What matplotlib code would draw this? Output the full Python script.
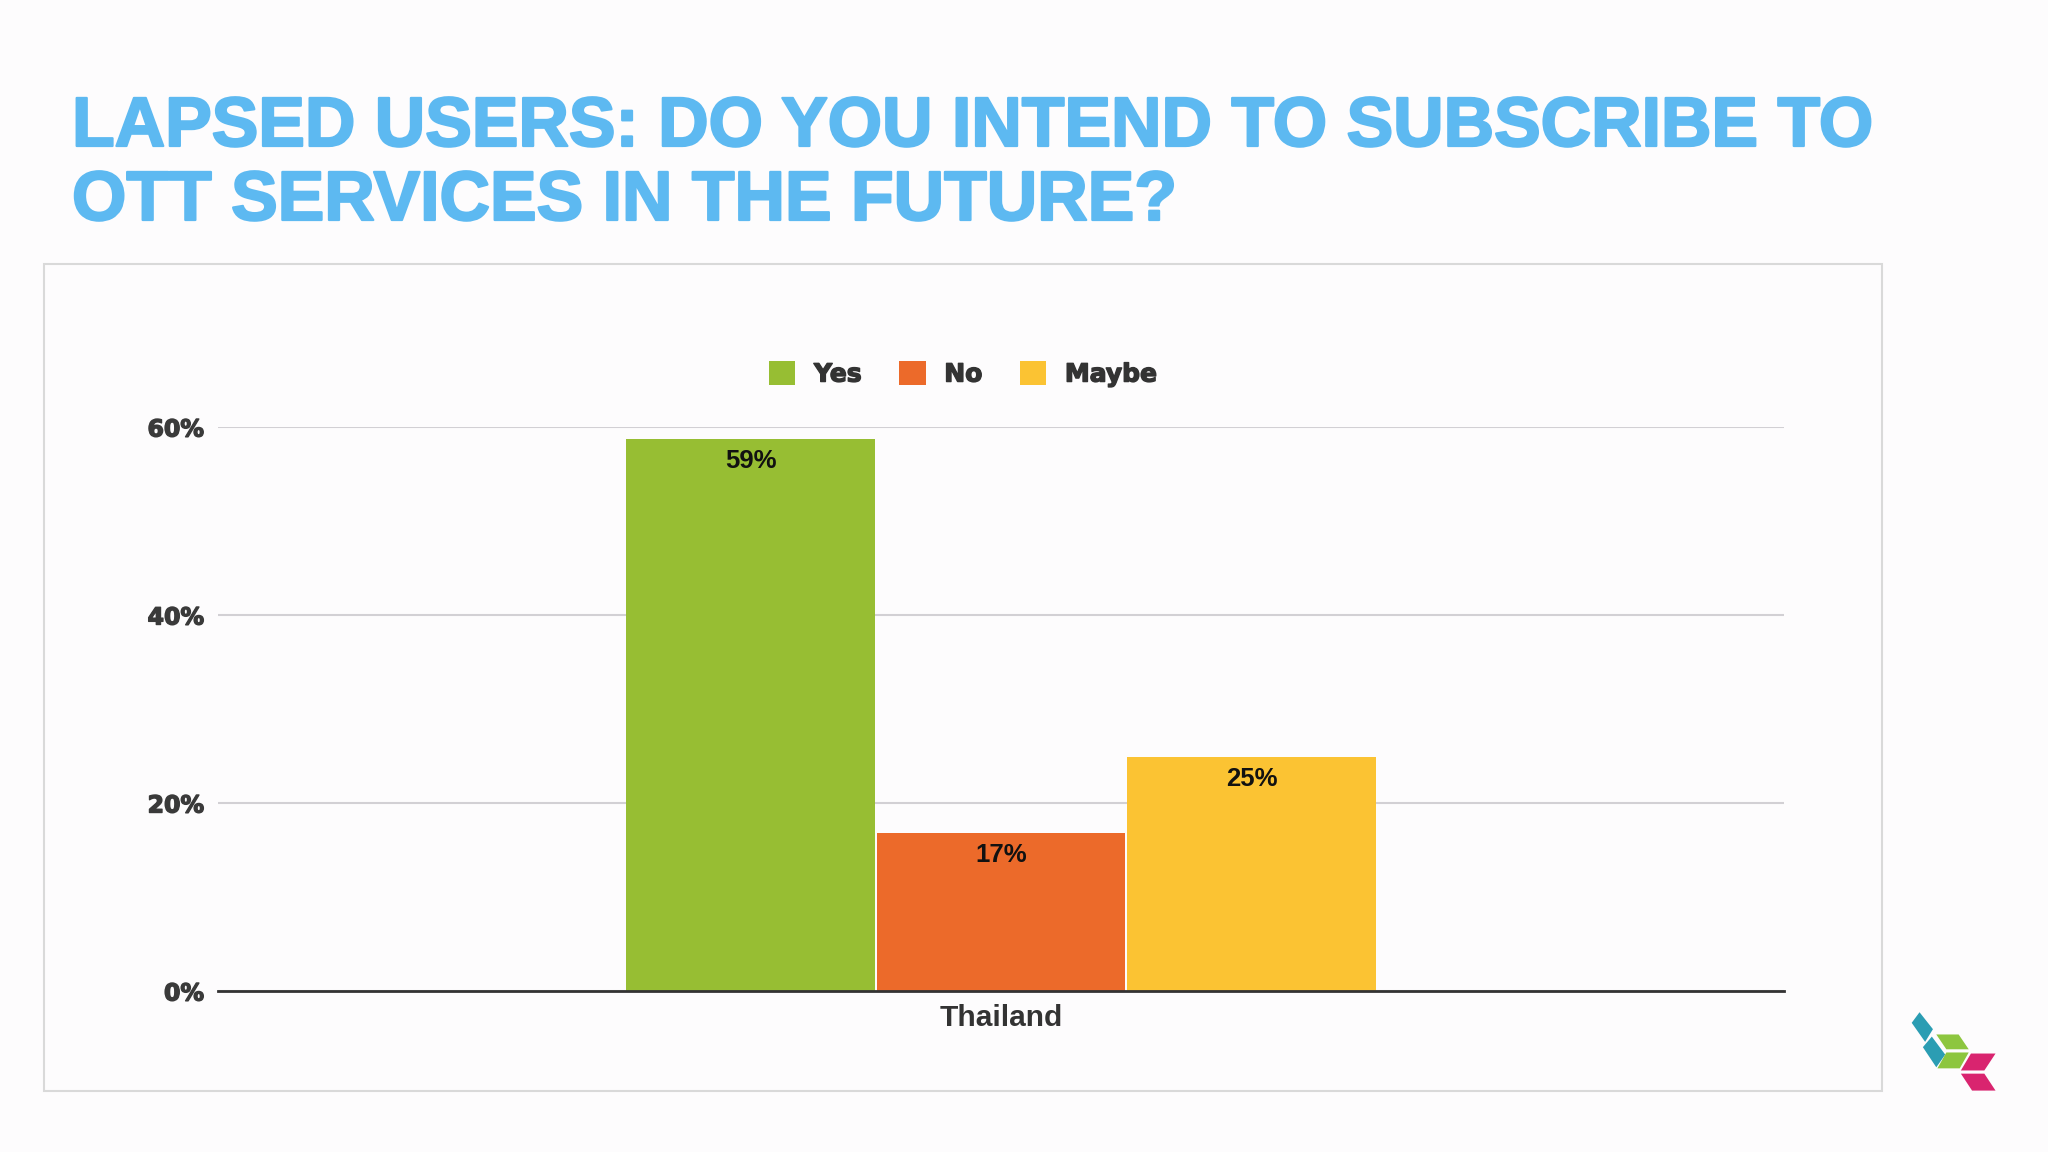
import matplotlib
matplotlib.use("Agg")
import matplotlib.pyplot as plt
from matplotlib.patches import Rectangle, Polygon
import matplotlib.patheffects as pe

# ---- data ----
title_lines = ["LAPSED USERS: DO YOU INTEND TO SUBSCRIBE TO",
               "OTT SERVICES IN THE FUTURE?"]
categories = ["Thailand"]
series_names = ["Yes", "No", "Maybe"]
series_values = [58.7, 16.8, 24.9]
series_colors = ["#97BE33", "#EC6A2A", "#FBC333"]
y_ticks = [0, 20, 40, 60]
y_tick_labels = ["0%", "20%", "40%", "60%"]

W, H = 2048, 1152
fig = plt.figure(figsize=(W / 100, H / 100), dpi=100)
fig.patch.set_facecolor("#FDFCFD")

def fx(px):
    return px / W

def fy(py):
    return 1 - py / H

# title
title_color = "#5DB9F1"
thick = [pe.withStroke(linewidth=1.6, foreground=title_color)]
for line, base in zip(title_lines, [146, 220]):
    fig.text(fx(72), fy(base), line, fontsize=50.3, fontweight="bold",
             family="Liberation Sans", color=title_color, ha="left", va="baseline",
             path_effects=thick)

# chart frame
frame = Rectangle((fx(44), fy(1091)), fx(1882) - fx(44), fy(264) - fy(1091),
                  transform=fig.transFigure, facecolor="#FDFCFD",
                  edgecolor="#D9D9D9", linewidth=1.5, zorder=-10)
fig.patches.append(frame)

# axes
ax = fig.add_axes([fx(218), fy(991), fx(1784) - fx(218), fy(427) - fy(991)])
ax.set_zorder(2)
ax.set_facecolor("none")
ax.set_xlim(-1, 1)
ax.set_ylim(0, 60)

dark_thick = [pe.withStroke(linewidth=1.0, foreground="#3A3A3A")]

bar_w = 0.318
offsets = [-0.32, 0.0, 0.32]
for name, val, col, off in zip(series_names, series_values, series_colors, offsets):
    ax.bar(0 + off, val, width=bar_w, color=col, edgecolor="none", label=name, zorder=3)
    ax.text(0 + off, val - 1.05, f"{round(val)}%", ha="center", va="top",
            fontsize=18.5, fontweight="bold", family="Liberation Sans",
            color="#111111", zorder=4)

ax.set_yticks(y_ticks)
ax.set_yticklabels(y_tick_labels, fontsize=17, fontweight="bold",
                   family="DejaVu Sans", color="#3A3A3A")
for t in ax.get_yticklabels():
    t.set_path_effects(dark_thick)
ax.tick_params(axis="y", length=0, pad=10)
ax.set_xticks([0])
ax.set_xticklabels(categories, fontsize=21.5, fontweight="bold",
                   family="Liberation Sans", color="#333333")
ax.tick_params(axis="x", length=0, pad=9)
ax.grid(axis="y", color="#D2D0D4", linewidth=1.5, zorder=1)
ax.set_axisbelow(True)
for s in ["top", "right", "left"]:
    ax.spines[s].set_visible(False)
ax.spines["bottom"].set_color("#333333")
ax.spines["bottom"].set_linewidth(2)
ax.spines["bottom"].set_zorder(5)

leg = fig.legend(*ax.get_legend_handles_labels(), loc="center",
                 bbox_to_anchor=(fx(963), fy(374)), ncol=3, frameon=False,
                 prop={"family": "DejaVu Sans", "weight": "bold", "size": 18},
                 handlelength=1.05, handleheight=1.05, handletextpad=0.75,
                 columnspacing=1.5, labelcolor="#333333")
for t in leg.get_texts():
    t.set_path_effects([pe.withStroke(linewidth=1.0, foreground="#333333")])

# logo (decoration)
lax = fig.add_axes([fx(1905), fy(1098), fx(2000) - fx(1905), fy(1008) - fy(1098)])
lax.set_xlim(30, 115)
lax.set_ylim(115, 30)
lax.axis("off")
teal = "#2B9DB3"
green = "#8DC63F"
mag = "#D9246F"
shapes = [
    ([(36, 44), (43, 34), (55, 50), (48, 62)], teal),
    ([(46, 67), (54, 57), (66, 74), (58, 86)], teal),
    ([(58, 55), (78, 55), (87, 69), (67, 69)], green),
    ([(67, 72), (87, 72), (79, 87), (59, 87)], green),
    ([(89, 73), (111, 73), (101, 89), (80, 89)], mag),
    ([(80, 92), (101, 92), (111, 108), (90, 108)], mag),
]
for pts, c in shapes:
    lax.add_patch(Polygon(pts, closed=True, facecolor=c, edgecolor="none"))

fig.savefig("out.png", dpi=100, facecolor=fig.get_facecolor())
